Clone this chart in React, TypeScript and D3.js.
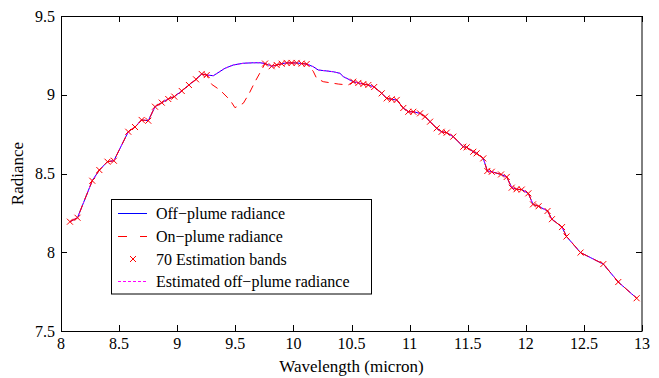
import React from "react";
import * as d3 from "d3";

// Estimation bands (markers)
const bandWl = [8.077, 8.142, 8.269, 8.33, 8.4, 8.455, 8.579, 8.637, 8.694, 8.751, 8.809, 8.867, 8.923, 8.975, 9.039, 9.101, 9.162, 9.211, 9.254,
  9.756, 9.813, 9.856, 9.899, 9.942, 9.985, 10.028, 10.071, 10.114,
  10.515, 10.559, 10.602, 10.645, 10.695, 10.76, 10.803, 10.846, 10.889, 10.946, 10.989, 11.032, 11.09, 11.133, 11.176, 11.233, 11.276, 11.319, 11.376,
  11.462, 11.491, 11.548, 11.577, 11.634, 11.669, 11.707, 11.787, 11.836, 11.879, 11.92, 11.965, 12.022, 12.062, 12.11, 12.187, 12.225, 12.312, 12.35,
  12.471, 12.667, 12.796, 12.954];
const bandRad = [8.194, 8.219, 8.454, 8.522, 8.575, 8.581, 8.765, 8.795, 8.84, 8.835, 8.924, 8.95, 8.973, 8.988, 9.024, 9.062, 9.098, 9.132, 9.125,
  9.198, 9.181, 9.189, 9.197, 9.202, 9.202, 9.202, 9.198, 9.195,
  9.083, 9.075, 9.068, 9.062, 9.049, 9.009, 8.977, 8.971, 8.967, 8.916, 8.892, 8.892, 8.882, 8.861, 8.829, 8.787, 8.765, 8.759, 8.734,
  8.67, 8.666, 8.638, 8.628, 8.596, 8.516, 8.511, 8.494, 8.478, 8.41, 8.4, 8.398, 8.374, 8.304, 8.292, 8.262, 8.21, 8.16, 8.1,
  7.998, 7.925, 7.811, 7.708];

// Off-plume radiance, extra points between bands
const offGapWl = [9.311, 9.411, 9.483, 9.569, 9.655, 9.713, 10.171, 10.214, 10.287, 10.343, 10.401, 10.43];
const offGapRad = [9.121, 9.168, 9.189, 9.2, 9.203, 9.203, 9.178, 9.157, 9.151, 9.146, 9.136, 9.115];

// On-plume radiance, extra points between bands (absorption)
const onGapWl = [9.297, 9.368, 9.454, 9.497, 9.569, 9.62, 9.67, 9.713, 10.17, 10.2, 10.257, 10.386, 10.472];
const onGapRad = [9.066, 9.03, 8.967, 8.918, 8.946, 9.009, 9.083, 9.14, 9.15, 9.104, 9.083, 9.068, 9.062];

const xTicks = [8, 8.5, 9, 9.5, 10, 10.5, 11, 11.5, 12, 12.5, 13];
const yTicks = [7.5, 8, 8.5, 9, 9.5];

const W = 659, H = 378;
const m = { left: 61, right: 17, top: 16, bottom: 47 };

type P = [number, number];
function merge(aw: number[], ar: number[], bw: number[], br: number[]): P[] {
  const pts: P[] = aw.map((w, i) => [w, ar[i]] as P).concat(bw.map((w, i) => [w, br[i]] as P));
  return pts.sort((a, b) => a[0] - b[0]);
}

export default function App() {
  const x = d3.scaleLinear().domain([8, 13]).range([m.left, W - m.right]);
  const y = d3.scaleLinear().domain([7.5, 9.5]).range([H - m.bottom, m.top]);
  const line = d3.line<P>().x(d => x(d[0])).y(d => y(d[1]));
  const off = merge(bandWl, bandRad, offGapWl, offGapRad);
  const on = merge(bandWl, bandRad, onGapWl, onGapRad);
  const font = "'Liberation Serif', 'Times New Roman', serif";
  const x0 = m.left, x1 = W - m.right, y0 = m.top, y1 = H - m.bottom;
  const tl = 6;
  const cross = (cx: number, cy: number, s: number, k: string) => (
    <g key={k} stroke="#ff0000" strokeWidth={1}>
      <line x1={cx - s} y1={cy - s} x2={cx + s} y2={cy + s} />
      <line x1={cx - s} y1={cy + s} x2={cx + s} y2={cy - s} />
    </g>
  );
  const lg = { x: 111.5, y: 199.5, w: 260, h: 94.5 };
  const rows = [213.5, 236.5, 259, 281.5];
  const labels = ["Off\u2212plume radiance", "On\u2212plume radiance", "70 Estimation bands", "Estimated off\u2212plume radiance"];
  return (
    <svg width={W} height={H} style={{ position: "absolute", left: 0, top: 0, background: "#fff" }} fontFamily={font}>
      <rect x={0} y={0} width={W} height={H} fill="#fff" />
      <path d={line(off) || ""} fill="none" stroke="#0000ff" strokeWidth={1} />
      <path d={line(off) || ""} fill="none" stroke="#ff00ff" strokeWidth={1} strokeDasharray="2,2" />
      <path d={line(on) || ""} fill="none" stroke="#ff0000" strokeWidth={1} strokeDasharray="8,6" />
      {bandWl.map((w, i) => cross(x(w), y(bandRad[i]), 3, "b" + i))}
      {/* axes box */}
      <rect x={x0 + 0.5} y={y0 + 0.5} width={x1 - x0 - 0.5} height={y1 - y0} fill="none" stroke="#000" strokeWidth={1} />
      {xTicks.map(t => (
        <g key={"x" + t}>
          <line x1={Math.round(x(t)) + 0.5} x2={Math.round(x(t)) + 0.5} y1={y1} y2={y1 - tl} stroke="#000" />
          <line x1={Math.round(x(t)) + 0.5} x2={Math.round(x(t)) + 0.5} y1={y0} y2={y0 + tl} stroke="#000" />
          <text x={x(t)} y={349} textAnchor="middle" fontSize={16}>{String(t)}</text>
        </g>
      ))}
      {yTicks.map(t => (
        <g key={"y" + t}>
          <line x1={x0} x2={x0 + tl} y1={Math.round(y(t)) + 0.5} y2={Math.round(y(t)) + 0.5} stroke="#000" />
          <line x1={x1} x2={x1 - tl} y1={Math.round(y(t)) + 0.5} y2={Math.round(y(t)) + 0.5} stroke="#000" />
          <text x={55} y={y(t) + 5.5} textAnchor="end" fontSize={16}>{String(t)}</text>
        </g>
      ))}
      <text x={(x0 + x1) / 2} y={372} textAnchor="middle" fontSize={17}>Wavelength (micron)</text>
      <text transform={`translate(23,${(y0 + y1) / 2}) rotate(-90)`} textAnchor="middle" fontSize={17}>Radiance</text>
      {/* legend */}
      <rect x={lg.x} y={lg.y} width={lg.w} height={lg.h} fill="#fff" stroke="#000" strokeWidth={1} />
      <line x1={118} x2={147} y1={rows[0]} y2={rows[0]} stroke="#0000ff" />
      <line x1={118} x2={147} y1={rows[1]} y2={rows[1]} stroke="#ff0000" strokeDasharray="9,13" />
      {cross(133, rows[2], 3, "lg")}
      <line x1={118} x2={147} y1={rows[3]} y2={rows[3]} stroke="#ff00ff" strokeDasharray="3,2" />
      {labels.map((l, i) => (
        <text key={l} x={156} y={rows[i] + 5.5} fontSize={16}>{l}</text>
      ))}
    </svg>
  );
}
